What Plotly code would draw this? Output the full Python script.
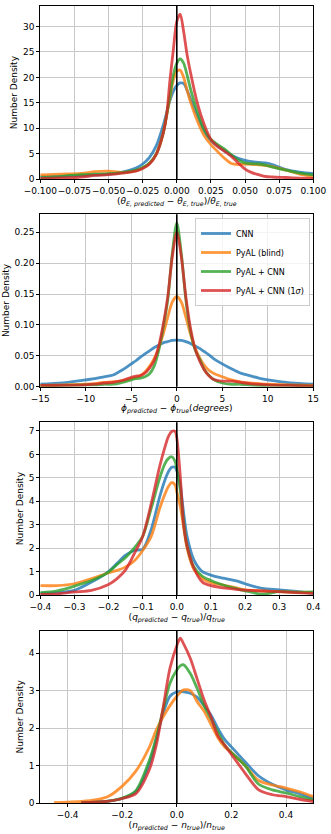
import plotly.graph_objects as go
from plotly.subplots import make_subplots

# --- theta_E panel ---
theta_x = [-0.1, -0.09, -0.08, -0.07, -0.06, -0.05, -0.04, -0.03, -0.025, -0.02, -0.015,
           -0.01, -0.0075, -0.005, -0.0025, 0, 0.0025, 0.005, 0.0075, 0.01, 0.015, 0.02,
           0.025, 0.03, 0.035, 0.04, 0.045, 0.05, 0.055, 0.06, 0.065, 0.07, 0.08, 0.09, 0.1]
theta_cnn = [0.5, 0.55, 0.65, 0.75, 0.85, 1.0, 1.4, 2.2, 3.0, 4.3, 6.6, 10.5, 13.0, 15.5,
             17.3, 18.4, 18.9, 18.8, 17.5, 15.8, 12.5, 9.4, 7.6, 6.5, 5.6, 4.7, 4.1, 3.7,
             3.45, 3.3, 3.2, 2.9, 1.9, 1.4, 1.1]
theta_blind = [0.85, 0.95, 1.05, 1.15, 1.5, 1.6, 1.35, 1.7, 2.2, 3.1, 5.0, 9.0, 12.5, 16.0,
               19.5, 21.2, 21.4, 20.0, 17.5, 15.2, 11.5, 8.6, 6.8, 5.4, 4.1, 3.1, 2.9, 3.0,
               2.95, 2.85, 2.7, 2.5, 1.8, 1.0, 0.5]
theta_both = [0.3, 0.45, 0.7, 0.9, 1.0, 1.1, 1.3, 1.8, 2.3, 3.2, 5.0, 9.0, 12.5, 16.5,
              20.5, 22.8, 23.6, 22.8, 20.5, 17.8, 13.3, 9.8, 7.8, 6.8, 5.9, 4.8, 3.8, 3.2,
              3.05, 3.0, 2.8, 2.4, 1.8, 1.2, 0.85]
theta_1sig = [0.2, 0.25, 0.3, 0.45, 0.75, 0.9, 1.2, 1.6, 2.1, 3.0, 4.9, 9.0, 12.5, 19.5,
              25.5, 31.0, 32.4, 29.0, 24.5, 21.0, 15.0, 10.8, 7.8, 6.4, 5.5, 4.5, 3.2, 2.0,
              1.3, 0.9, 0.55, 0.45, 0.35, 0.25, 0.2]
theta_ticks = [-0.1, -0.075, -0.05, -0.025, 0, 0.025, 0.05, 0.075, 0.1]

# --- phi panel ---
phi_x = [-15, -12.5, -10, -9, -8, -7, -6, -5, -4.5, -4, -3.5, -3, -2.5, -2, -1.5, -1, -0.5,
         0, 0.5, 1, 1.5, 2, 2.5, 3, 3.5, 4, 5, 6, 7, 8, 9, 10, 12.5, 15]
phi_cnn = [0.004, 0.006, 0.011, 0.013, 0.016, 0.019, 0.027, 0.037, 0.042, 0.048, 0.053,
           0.058, 0.063, 0.067, 0.071, 0.073, 0.075, 0.0755, 0.075, 0.073, 0.07, 0.066,
           0.062, 0.057, 0.052, 0.046, 0.037, 0.029, 0.022, 0.018, 0.014, 0.011, 0.006, 0.004]
phi_blind = [0.002, 0.003, 0.004, 0.005, 0.007, 0.008, 0.01, 0.013, 0.015, 0.018, 0.024,
             0.033, 0.045, 0.062, 0.085, 0.112, 0.137, 0.146, 0.137, 0.112, 0.085, 0.063,
             0.047, 0.035, 0.027, 0.022, 0.016, 0.011, 0.008, 0.006, 0.005, 0.004, 0.003, 0.002]
phi_both = [0.001, 0.002, 0.003, 0.003, 0.004, 0.004, 0.007, 0.011, 0.013, 0.014, 0.016,
            0.021, 0.033, 0.058, 0.095, 0.14, 0.215, 0.265, 0.215, 0.14, 0.09, 0.06, 0.045,
            0.028, 0.019, 0.012, 0.006, 0.004, 0.004, 0.003, 0.002, 0.002, 0.002, 0.001]
phi_1sig = [0.002, 0.002, 0.003, 0.004, 0.006, 0.007, 0.01, 0.015, 0.017, 0.018, 0.022,
            0.03, 0.042, 0.065, 0.1, 0.145, 0.21, 0.25, 0.21, 0.145, 0.095, 0.062, 0.042,
            0.028, 0.018, 0.012, 0.009, 0.009, 0.007, 0.005, 0.004, 0.003, 0.002, 0.001]
phi_ticks = [-15, -10, -5, 0, 5, 10, 15]

# --- q panel ---
q_x = [-0.4, -0.35, -0.3, -0.25, -0.2, -0.175, -0.15, -0.125, -0.1, -0.075, -0.05, -0.035,
       -0.025, -0.015, -0.005, 0, 0.01, 0.02, 0.03, 0.05, 0.075, 0.1, 0.125, 0.15, 0.175,
       0.2, 0.25, 0.3, 0.35, 0.4]
q_cnn = [0.07, 0.1, 0.2, 0.55, 1.0, 1.35, 1.7, 1.9, 1.95, 2.8, 4.2, 4.9, 5.25, 5.45, 5.45,
         5.3, 4.7, 3.5, 2.5, 1.5, 1.0, 0.85, 0.75, 0.68, 0.6, 0.48, 0.28, 0.22, 0.15, 0.07]
q_blind = [0.4, 0.4, 0.48, 0.7, 0.95, 1.05, 1.2, 1.45, 1.9, 2.5, 3.7, 4.3, 4.62, 4.8, 4.7,
           4.4, 3.8, 2.9, 2.0, 1.1, 0.7, 0.53, 0.45, 0.38, 0.3, 0.22, 0.18, 0.14, 0.12, 0.1]
q_both = [0.1, 0.18, 0.38, 0.62, 0.98, 1.3, 1.6, 2.0, 2.5, 3.7, 5.0, 5.6, 5.82, 5.9, 5.7,
          5.4, 4.5, 3.1, 2.1, 1.2, 0.8, 0.62, 0.48, 0.36, 0.27, 0.18, 0.04, 0.14, 0.12, 0.13]
q_1sig = [0.03, 0.05, 0.13, 0.2, 0.45, 0.7, 1.07, 1.75, 2.5, 3.9, 5.5, 6.3, 6.75, 6.98, 6.98,
          6.7, 5.1, 3.0, 2.1, 1.15, 0.55, 0.4, 0.33, 0.28, 0.24, 0.21, 0.17, 0.14, 0.1, 0.07]
q_ticks = [-0.4, -0.3, -0.2, -0.1, 0, 0.1, 0.2, 0.3, 0.4]

# --- n panel ---
n_x = [-0.45, -0.4, -0.35, -0.3, -0.25, -0.2, -0.15, -0.1, -0.075, -0.05, -0.025, 0, 0.0125,
       0.025, 0.05, 0.075, 0.1, 0.125, 0.15, 0.175, 0.2, 0.25, 0.3, 0.35, 0.4, 0.45, 0.5]
n_cnn = [None, None, 0.01, 0.02, 0.05, 0.12, 0.3, 1.05, 1.7, 2.4, 2.85, 2.97, 2.98, 2.97,
         2.93, 2.82, 2.6, 2.35, 2.0, 1.7, 1.5, 1.1, 0.72, 0.5, 0.35, 0.25, 0.12]
n_blind = [0.01, 0.02, 0.04, 0.08, 0.18, 0.45, 0.85, 1.5, 1.95, 2.3, 2.6, 2.85, 2.95, 3.02,
           3.0, 2.7, 2.45, 2.1, 1.75, 1.5, 1.35, 1.0, 0.6, 0.48, 0.4, 0.3, 0.17]
n_both = [None, None, 0.01, 0.02, 0.05, 0.13, 0.33, 1.15, 1.75, 2.5, 3.2, 3.55, 3.66, 3.69,
          3.45, 3.05, 2.6, 2.25, 1.9, 1.55, 1.35, 1.0, 0.5, 0.35, 0.27, 0.17, 0.08]
n_1sig = [None, None, 0.01, 0.02, 0.05, 0.12, 0.25, 0.9, 1.55, 2.55, 3.6, 4.2, 4.4, 4.25,
          3.85, 3.3, 2.75, 2.3, 1.8, 1.55, 1.3, 0.8, 0.35, 0.22, 0.17, 0.1, 0.04]
n_ticks = [-0.4, -0.2, 0, 0.2, 0.4]

labels = ["CNN", "PyAL (blind)", "PyAL + CNN", "PyAL + CNN (1<i>σ</i>)"]
colors = ["#1f77b4", "#ff7f0e", "#2ca02c", "#d62728"]

panels = [
    (theta_x, [theta_cnn, theta_blind, theta_both, theta_1sig]),
    (phi_x, [phi_cnn, phi_blind, phi_both, phi_1sig]),
    (q_x, [q_cnn, q_blind, q_both, q_1sig]),
    (n_x, [n_cnn, n_blind, n_both, n_1sig]),
]

fig = make_subplots(rows=4, cols=1)

for i, (xs, series) in enumerate(panels):
    for j, ys in enumerate(series):
        fig.add_trace(go.Scatter(
            x=xs, y=ys, mode="lines", name=labels[j],
            line=dict(color=colors[j], width=2.8, shape="spline", smoothing=0.8),
            opacity=0.8, showlegend=(i == 1),
        ), row=i + 1, col=1)
    fig.add_vline(x=0, line_color="black", line_width=1.6, row=i + 1, col=1)

FONT = "DejaVu Sans, Arial, sans-serif"
axis_style = dict(
    showline=True, linecolor="black", linewidth=1, mirror=True,
    showgrid=True, gridcolor="#c8c8c8", gridwidth=1, zeroline=False,
    ticks="outside", ticklen=3, tickcolor="black", tickangle=0,
    tickfont=dict(family=FONT, size=9, color="black"), automargin=False,
)
fig.update_xaxes(**axis_style)
fig.update_yaxes(**axis_style)

xdom = [40.3 / 331, 313.3 / 331]
ydoms = [(6, 179.3), (214.3, 386.7), (422.3, 595), (630.7, 803)]
xtitles = [
    "(<i>θ</i><sub><i>E, predicted</i></sub> − <i>θ</i><sub><i>E, true</i></sub>)/<i>θ</i><sub><i>E, true</i></sub>",
    "<i>ϕ</i><sub><i>predicted</i></sub> − <i>ϕ</i><sub><i>true</i></sub>(<i>degrees</i>)",
    "(<i>q</i><sub><i>predicted</i></sub> − <i>q</i><sub><i>true</i></sub>)/<i>q</i><sub><i>true</i></sub>",
    "(<i>n</i><sub><i>predicted</i></sub> − <i>n</i><sub><i>true</i></sub>)/<i>n</i><sub><i>true</i></sub>",
]
xranges = [[-0.1, 0.1], [-15, 15], [-0.4, 0.4], [-0.5, 0.5]]
xticks = [dict(tickvals=theta_ticks, tickformat=".3f"), dict(tickvals=phi_ticks),
          dict(tickvals=q_ticks, tickformat=".1f"), dict(tickvals=n_ticks, tickformat=".1f")]
yranges = [[0, 34], [0, 0.279], [0, 7.37], [0, 4.6]]
yticks = [dict(dtick=5), dict(dtick=0.05, tickformat=".2f"), dict(dtick=1), dict(dtick=1)]

for i in range(4):
    top, bot = ydoms[i]
    fig.update_xaxes(domain=xdom, range=xranges[i], **xticks[i],
                     title=dict(text=xtitles[i], standoff=2,
                                font=dict(family=FONT, size=9, color="black")),
                     row=i + 1, col=1)
    fig.update_yaxes(domain=[1 - bot / 834, 1 - top / 834], range=yranges[i], **yticks[i],
                     title=dict(text="Number Density", standoff=3,
                                font=dict(family=FONT, size=9, color="black")),
                     row=i + 1, col=1)

fig.update_layout(
    width=331, height=834,
    margin=dict(l=0, r=0, t=0, b=0),
    paper_bgcolor="white", plot_bgcolor="white",
    font=dict(family=FONT, size=9, color="black"),
    legend=dict(
        x=310 / 331, y=1 - 218 / 834, xanchor="right", yanchor="top",
        bgcolor="rgba(255,255,255,0.8)", bordercolor="#cccccc", borderwidth=1,
        font=dict(family=FONT, size=8, color="black"),
        itemwidth=30, tracegroupgap=0,
    ),
)

# the page's default body margin would push the figure off by 8px
fig.write_html("out.html", config={"displayModeBar": False},
               post_script="document.body.style.margin='0';")
